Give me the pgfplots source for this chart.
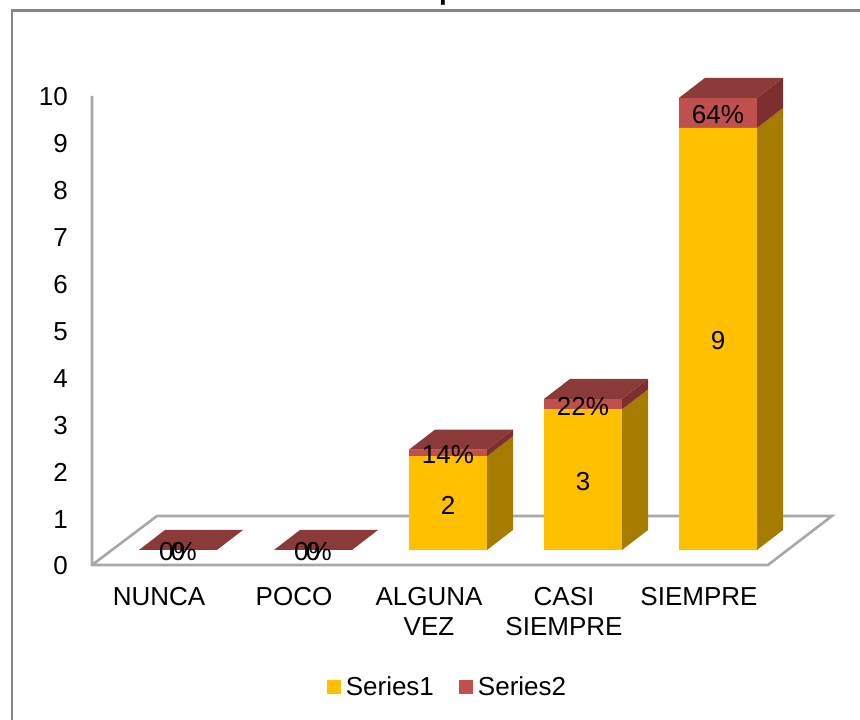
\documentclass[border=0pt]{standalone}
\usepackage{pgfplots}
\pgfplotsset{compat=1.18}
\usepackage{fontspec}
\setmainfont{Liberation Sans}
\newcommand\fs{\fontsize{26}{30}\selectfont}
\definecolor{yfront}{HTML}{FFC000}
\definecolor{yside}{HTML}{A67C00}
\definecolor{rfront}{HTML}{C0504D}
\definecolor{rtop}{HTML}{8B3A3A}
\definecolor{rside}{HTML}{7D2F2F}
\definecolor{floorline}{HTML}{A8A8A8}
\definecolor{frameline}{HTML}{868686}
\pgfplotsset{
  page/.style={scale only axis,width=860pt,height=720pt,at={(0pt,0pt)},anchor=south west,
    xmin=-1.3185,xmax=5.0519,clip=false},
  wallframe/.style={ymin=-3.305,ymax=12.047},
  barframe/.style={ymin=-3.6247,ymax=11.727},
  face/.style={draw=none,fill=#1,forget plot},
}
\begin{document}
\begin{tikzpicture}
\path[use as bounding box] (0pt,0pt) rectangle (860pt,720pt);
% outer frame (open on the right and at the bottom)
\draw[frameline,line width=2.6pt] (12pt,0pt) -- (12pt,709.5pt) -- (860pt,709.5pt);
% clipped title
\node[anchor=base west,inner sep=0pt,font=\fontsize{28}{30}\selectfont\bfseries] at (439pt,720pt) {p};
% axis: wall, floor, tick labels
\begin{axis}[page,wallframe,
  axis line style={draw=none},tick style={draw=none},
  axis x line*=bottom,axis y line*=left,
  xtick={0,1,2,3,4},
  xticklabels={NUNCA,POCO,{ALGUNA\\VEZ},{CASI\\SIEMPRE},SIEMPRE},
  x tick label style={font=\fs,align=center,anchor=north,xshift=-19pt,yshift=133pt,inner sep=0pt},
  ytick={0,1,2,3,4,5,6,7,8,9,10},
  y tick label style={font=\fs,anchor=east,xshift=68pt,yshift=-1pt,inner sep=0pt},
  /pgf/number format/assume math mode=true,
]
\addplot[floorline,line width=2.6pt,forget plot] coordinates {(-0.637,10) (-0.637,0) (4.370,0) (4.844,1.045) (-0.1556,1.045) (-0.637,0)};
\end{axis}
% front faces, stacked
\begin{axis}[page,barframe,hide axis,ybar stacked,bar width=78pt,
  legend style={at={(0.5203,0.0458)},anchor=center,draw=none,fill=none,font=\fs,legend columns=2,
    /tikz/every even column/.append style={column sep=23pt},inner sep=0pt},
  legend image code/.code={\fill[#1] (0pt,-7pt) rectangle (14pt,7pt);\path (17pt,0pt);},
]
\addplot[draw=none,fill=yfront] coordinates {(0,0) (1,0) (2,2) (3,3) (4,9)};
\addplot[draw=none,fill=rfront] coordinates {(0,0) (1,0) (2,0.14) (3,0.22) (4,0.64)};
\legend{Series1,Series2}
\end{axis}
% side and top faces, data labels
\begin{axis}[page,barframe,hide axis,
  every node near coord/.style={anchor=center,inner sep=0pt,font=\fs,text=black,yshift=-2pt},
]
% ALGUNA VEZ
\addplot[face=yside] coordinates {(2.2889,0) (2.4815,0.4264) (2.4815,2.4264) (2.2889,2)} --cycle;
\addplot[face=rside] coordinates {(2.2889,2) (2.4815,2.4264) (2.4815,2.5664) (2.2889,2.14)} --cycle;
\addplot[face=rtop] coordinates {(1.7111,2.14) (2.2889,2.14) (2.4815,2.5664) (1.9037,2.5664)} --cycle;
% CASI SIEMPRE
\addplot[face=yside] coordinates {(3.2889,0) (3.4815,0.4264) (3.4815,3.4264) (3.2889,3)} --cycle;
\addplot[face=rside] coordinates {(3.2889,3) (3.4815,3.4264) (3.4815,3.6464) (3.2889,3.22)} --cycle;
\addplot[face=rtop] coordinates {(2.7111,3.22) (3.2889,3.22) (3.4815,3.6464) (2.9037,3.6464)} --cycle;
% SIEMPRE
\addplot[face=yside] coordinates {(4.2889,0) (4.4815,0.4264) (4.4815,9.4264) (4.2889,9)} --cycle;
\addplot[face=rside] coordinates {(4.2889,9) (4.4815,9.4264) (4.4815,10.0664) (4.2889,9.64)} --cycle;
\addplot[face=rtop] coordinates {(3.7111,9.64) (4.2889,9.64) (4.4815,10.0664) (3.9037,10.0664)} --cycle;
% NUNCA, POCO: zero-height bars show only the top
\addplot[face=rtop] coordinates {(-0.2889,0) (0.2889,0) (0.4815,0.4264) (-0.0963,0.4264)} --cycle;
\addplot[face=rtop] coordinates {(0.7111,0) (1.2889,0) (1.4815,0.4264) (0.9037,0.4264)} --cycle;
% data labels
\addplot[only marks,mark=none,forget plot,nodes near coords,point meta=explicit symbolic]
 coordinates {(0,0)[0] (1,0)[0] (2,1)[2] (3,1.5)[3] (4,4.5)[9]
   (0,0)[0\%] (1,0)[0\%] (2,2.07)[14\%] (3,3.11)[22\%] (4,9.32)[64\%]};
\end{axis}
\end{tikzpicture}
\end{document}
